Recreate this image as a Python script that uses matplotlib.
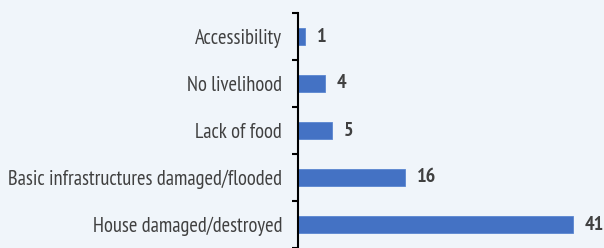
import numpy as np
import matplotlib.pyplot as plt

categories = ["House damaged/destroyed", "Basic infrastructures damaged/flooded",
              "Lack of food", "No livelihood", "Accessibility"]
values = [41, 16, 5, 4, 1]

plt.rcParams['font.family'] = ['PT Sans Narrow', 'Roboto', 'DejaVu Sans']

bg = "#f0f5fa"
fig = plt.figure(figsize=(6.04, 2.48), dpi=100, facecolor=bg)
ax = fig.add_axes([298 / 604, 0, 1 - 298 / 604, 1 - 13 / 248])
ax.set_facecolor(bg)

y = np.arange(len(categories))
ax.barh(y, values, height=0.35, color="#4472c4", edgecolor="#5a86d0", linewidth=0.6)
for yi, v in zip(y, values):
    ax.text(v + 1.8, yi, str(v), va="center", ha="left", fontsize=14.5,
            fontweight="bold", color="#404040")

ax.set_xlim(0, 45.67)
ax.set_ylim(-0.396, 4.5)
ax.set_yticks(y)
ax.set_yticklabels(categories, fontsize=14.8, color="#404040")
ax.set_yticks(np.arange(-0.5, 4.6, 1), minor=True)
ax.tick_params(axis="y", which="major", length=0, pad=11.5)
ax.tick_params(axis="y", which="minor", length=4, width=1.5, direction="out")
ax.set_xticks([])
for s in ["top", "right", "bottom"]:
    ax.spines[s].set_visible(False)
ax.spines["left"].set_linewidth(1.5)
ax.spines["left"].set_color("black")

fig.savefig("out.png", dpi=100, facecolor=bg)
